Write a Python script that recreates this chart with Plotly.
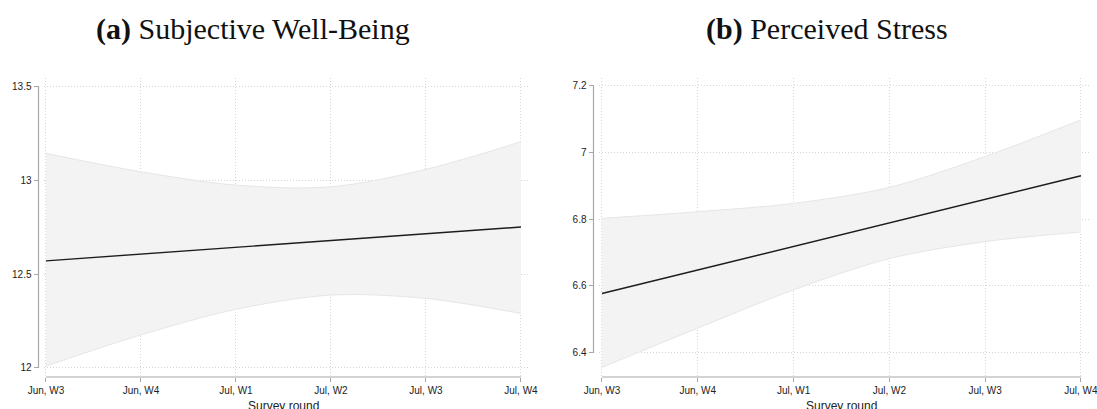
import plotly.graph_objects as go

# Survey rounds on the horizontal axis
rounds = ["Jun, W3", "Jun, W4", "Jul, W1", "Jul, W2", "Jul, W3", "Jul, W4"]

# Panel (a): Subjective Well-Being, linear fit and 95% CI
swb_fit = [12.570, 12.606, 12.642, 12.678, 12.714, 12.750]
swb_hi = [13.142, 13.044, 12.973, 12.964, 13.057, 13.204]
swb_lo = [12.010, 12.176, 12.312, 12.388, 12.370, 12.290]
swb_ticks = [12, 12.5, 13, 13.5]

# Panel (b): Perceived Stress, linear fit and 95% CI
pss_fit = [6.576, 6.647, 6.717, 6.788, 6.859, 6.930]
pss_hi = [6.802, 6.822, 6.847, 6.895, 6.988, 7.098]
pss_lo = [6.354, 6.472, 6.587, 6.681, 6.732, 6.761]
pss_ticks = [6.4, 6.6, 6.8, 7, 7.2]

W, H = 1097, 409

BAND_FILL = "#f3f3f3"
BAND_EDGE = "#e6e6e6"
FIT_COLOR = "#1c1c1c"
AXIS_COLOR = "#a8a8a8"
GRID_COLOR = "#d6d6d6"
GRID_DASH = "1px,2px"
TICK_FONT = dict(family="Liberation Sans, Arial, sans-serif", size=10, color="#222222")


def px_x(p):
    return p / W


def px_y(p):
    return 1 - p / H


fig = go.Figure()


def add_panel(xa, ya, hi, lo, fit):
    fig.add_trace(go.Scatter(
        x=rounds, y=hi, xaxis=xa, yaxis=ya, mode="lines",
        line=dict(color=BAND_EDGE, width=1, shape="spline", smoothing=0.9),
        hoverinfo="skip", showlegend=False))
    fig.add_trace(go.Scatter(
        x=rounds, y=lo, xaxis=xa, yaxis=ya, mode="lines",
        line=dict(color=BAND_EDGE, width=1, shape="spline", smoothing=0.9),
        fill="tonexty", fillcolor=BAND_FILL,
        hoverinfo="skip", showlegend=False))
    fig.add_trace(go.Scatter(
        x=rounds, y=fit, xaxis=xa, yaxis=ya, mode="lines",
        line=dict(color=FIT_COLOR, width=1.4),
        showlegend=False))


add_panel("x", "y", swb_hi, swb_lo, swb_fit)
add_panel("x2", "y2", pss_hi, pss_lo, pss_fit)

# Plot regions (pixel edges) and free y-axis positions
panels = [
    dict(x0=44, x1=528, yaxis_x=38.5, xr=[-0.021, 5.074], yr=[11.952, 13.543], ticks=swb_ticks),
    dict(x0=599, x1=1089, yaxis_x=593.5, xr=[-0.031, 5.084], yr=[6.325, 7.224], ticks=pss_ticks),
]
top_px, bottom_px = 78, 377

layout = dict(
    template="none",
    width=W, height=H,
    margin=dict(l=0, r=0, t=0, b=0, autoexpand=False),
    paper_bgcolor="white", plot_bgcolor="white",
    showlegend=False,
)

shapes = []
annotations = []
for i, p in enumerate(panels):
    sfx = "" if i == 0 else str(i + 1)
    layout["xaxis" + sfx] = dict(
        domain=[px_x(p["x0"]), px_x(p["x1"])],
        anchor="y" + sfx,
        type="category",
        range=p["xr"],
        automargin=False,
        showline=False, zeroline=False,
        showgrid=True, gridcolor=GRID_COLOR, griddash=GRID_DASH, gridwidth=1,
        ticks="outside", ticklen=4, tickcolor=AXIS_COLOR, tickwidth=1,
        tickfont=TICK_FONT,
    )
    layout["yaxis" + sfx] = dict(
        domain=[px_y(bottom_px), px_y(top_px)],
        anchor="free", position=px_x(p["yaxis_x"]),
        range=p["yr"],
        tickvals=p["ticks"],
        automargin=False,
        showline=False, zeroline=False,
        showgrid=True, gridcolor=GRID_COLOR, griddash=GRID_DASH, gridwidth=1,
        ticks="outside", ticklen=5, tickcolor=AXIS_COLOR, tickwidth=1,
        tickfont=TICK_FONT,
    )
    # y axis line spans only the labelled range
    shapes.append(dict(
        type="line", xref="paper", yref="y" + sfx,
        x0=px_x(p["yaxis_x"]), x1=px_x(p["yaxis_x"]),
        y0=min(p["ticks"]), y1=max(p["ticks"]),
        line=dict(color=AXIS_COLOR, width=1.2)))
    # x axis line from first to last survey round
    shapes.append(dict(
        type="line", xref="x" + sfx, yref="y" + sfx + " domain",
        x0=0, x1=len(rounds) - 1, y0=0, y1=0,
        line=dict(color=AXIS_COLOR, width=1.2)))
    annotations.append(dict(
        text="Survey round", xref="x" + sfx, yref="paper",
        x=(len(rounds) - 1) / 2, y=px_y(406), yanchor="middle", xanchor="center",
        showarrow=False,
        font=dict(family="Liberation Sans, Arial, sans-serif", size=12, color="#222222")))

title_font = dict(family="Liberation Serif, Times New Roman, serif", size=30, color="#111111")
annotations.append(dict(
    text="<b>(a)</b> Subjective Well-Being", xref="paper", yref="paper",
    x=px_x(253), y=px_y(29), xanchor="center", yanchor="middle",
    showarrow=False, font=title_font))
annotations.append(dict(
    text="<b>(b)</b> Perceived Stress", xref="paper", yref="paper",
    x=px_x(827), y=px_y(29), xanchor="center", yanchor="middle",
    showarrow=False, font=title_font))

layout["shapes"] = shapes
layout["annotations"] = annotations
fig.update_layout(**layout)

fig.write_html("out.html")
